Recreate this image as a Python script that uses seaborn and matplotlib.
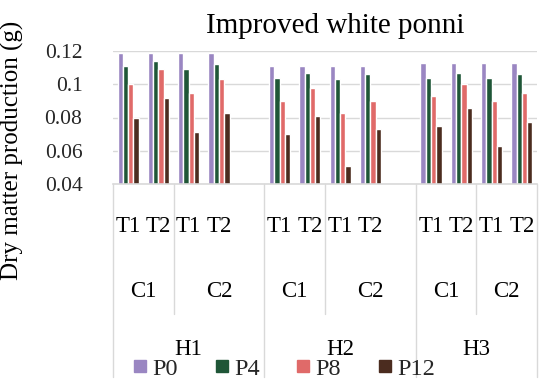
import matplotlib
matplotlib.use("Agg")
import matplotlib.pyplot as plt
import pandas as pd
import seaborn as sns
from matplotlib.lines import Line2D
from matplotlib.transforms import blended_transform_factory

# ---- data -------------------------------------------------------------
harvests = ["H1", "H2", "H3"]
cultivars = ["C1", "C2"]
treatments = ["T1", "T2"]
series = ["P0", "P4", "P8", "P12"]

yticks = [0.04, 0.06, 0.08, 0.1, 0.12]
ytick_labels = ["0.04", "0.06", "0.08", "0.1", "0.12"]

# order: H1(C1T1, C1T2, C2T1, C2T2), H2(...), H3(...)
p0 = [0.119, 0.119, 0.119, 0.119, 0.111, 0.111, 0.111, 0.111, 0.113, 0.113, 0.113, 0.113]
p4 = [0.111, 0.114, 0.109, 0.112, 0.104, 0.107, 0.103, 0.106, 0.104, 0.107, 0.104, 0.106]
p8 = [0.100, 0.109, 0.095, 0.103, 0.090, 0.098, 0.083, 0.090, 0.093, 0.100, 0.090, 0.095]
p12 = [0.080, 0.092, 0.071, 0.083, 0.070, 0.081, 0.051, 0.073, 0.075, 0.086, 0.063, 0.077]

colors = {"P0": "#9a86c2", "P4": "#1f5637", "P8": "#e06a69", "P12": "#4b2c1f"}
grid_color = "#d9d9d9"

# ---- layout of category slots (an empty slot closes H1 and H2) --------
slots = []
cells = []
for hi, h in enumerate(harvests):
    for c in cultivars:
        for t in treatments:
            key = f"{h}-{c}-{t}"
            slots.append(key)
            cells.append((h, c, t, key))
    if hi < len(harvests) - 1:
        slots.append(f"{h}-sep")

values = {"P0": p0, "P4": p4, "P8": p8, "P12": p12}
rows = []
for s in series:
    for (h, c, t, key), v in zip(cells, values[s]):
        rows.append({"slot": key, "series": s, "value": v})
df = pd.DataFrame(rows)

# ---- figure -----------------------------------------------------------
sns.set_theme(style="white")
plt.rcParams["font.family"] = ["Liberation Serif", "DejaVu Serif"]

W, H = 547, 382
fig = plt.figure(figsize=(W / 100, H / 100), dpi=100)
ax_left, ax_right, ax_top, ax_bottom = 113, 537, 51, 184
ax = fig.add_axes([ax_left / W, 1 - ax_bottom / H,
                   (ax_right - ax_left) / W, (ax_bottom - ax_top) / H])

sns.barplot(data=df, x="slot", y="value", hue="series", order=slots,
            hue_order=series, palette=colors, width=0.7, saturation=1,
            errorbar=None, legend=False, ax=ax)

ax.set_xlim(-0.5, len(slots) - 0.5)
ax.set_ylim(0.04, 0.12)
ax.set_yticks(yticks)
ax.set_yticklabels(ytick_labels, fontsize=15.5)
ax.tick_params(axis="y", length=0, pad=22)
ax.set_xticks([])
ax.set_xlabel("")
ax.set_ylabel("")
ax.yaxis.grid(True, color=grid_color, linewidth=1.0)
ax.set_axisbelow(True)
for side in ["left", "right", "top"]:
    ax.spines[side].set_visible(False)
ax.spines["bottom"].set_color(grid_color)
ax.spines["bottom"].set_linewidth(1.2)

# ---- multi-level category axis ----------------------------------------
trans = blended_transform_factory(ax.transData, fig.transFigure)
y_axis = 1 - ax_bottom / H
y_short = 1 - 314 / H
y_long = 1 - 377 / H
y_t = 1 - 232 / H
y_c = 1 - 297 / H
y_h = 1 - 355 / H
cat_fs = 16.5

pos = {key: i for i, key in enumerate(slots)}
h_starts = [pos[f"{h}-C1-T1"] - 0.5 for h in harvests] + [len(slots) - 0.5]

for h, c, t, key in cells:
    ax.text(pos[key], y_t, t, transform=trans, ha="center", va="baseline",
            fontsize=cat_fs, color="black")

for hi, h in enumerate(harvests):
    h_lo, h_hi = h_starts[hi], h_starts[hi + 1]
    c_split = pos[f"{h}-C2-T1"] - 0.5
    ax.text((h_lo + c_split) / 2, y_c, "C1", transform=trans, ha="center",
            va="baseline", fontsize=cat_fs, color="black")
    ax.text((c_split + h_hi) / 2, y_c, "C2", transform=trans, ha="center",
            va="baseline", fontsize=cat_fs, color="black")
    ax.text((h_lo + h_hi) / 2, y_h, h, transform=trans, ha="center",
            va="baseline", fontsize=cat_fs, color="black")
    ax.plot([c_split, c_split], [y_axis, y_short], transform=trans,
            color=grid_color, lw=1.0, clip_on=False)

for xb in h_starts:
    ax.plot([xb, xb], [y_axis, y_long], transform=trans,
            color=grid_color, lw=1.0, clip_on=False)

# ---- title, axis label, legend ----------------------------------------
fig.text(335 / W, 1 - 33 / H, "Improved white ponni", ha="center",
         va="baseline", fontsize=21, color="black")
fig.text(12 / W, 1 - 150.5 / H, "Dry matter production (g)", rotation=90,
         ha="center", va="center", fontsize=18, color="black")

handles = [Line2D([], [], marker="s", linestyle="none", markersize=8,
                  markerfacecolor=colors[s], markeredgecolor=colors[s])
           for s in series]
fig.legend(handles, series, loc="center", bbox_to_anchor=(284 / W, 1 - 368.5 / H),
           ncol=4, frameon=False, fontsize=17.5, handletextpad=0.2,
           columnspacing=1.5, handlelength=0.6, borderpad=0, borderaxespad=0)

fig.savefig("out.png", dpi=100)
